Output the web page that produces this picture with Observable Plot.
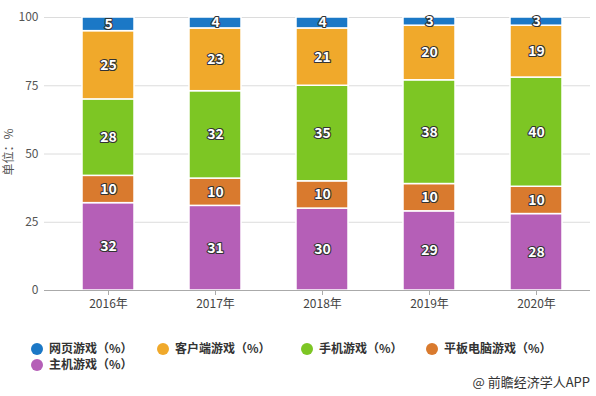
<!DOCTYPE html>
<html><head><meta charset="utf-8">
<script src="https://cdn.jsdelivr.net/npm/d3@7"></script>
<script src="https://cdn.jsdelivr.net/npm/@observablehq/plot@0.6"></script>
<style>
body{margin:0;background:#fff;font-family:"Noto Sans CJK SC","Noto Sans",sans-serif;}
#wrap{position:relative;width:596px;height:396px;overflow:hidden;}
#legend{position:absolute;left:0;top:336px;width:596px;height:40px;}
.li{position:absolute;font-size:12px;font-weight:bold;color:#333;white-space:nowrap;line-height:16px;}
.dot{display:inline-block;width:12px;height:12px;border-radius:50%;vertical-align:-2px;margin-right:6px;}
#cap{position:absolute;right:6px;top:372px;font-size:13px;color:#333;}
</style></head><body>
<div id="wrap"><div id="chart"></div><div id="legend"></div><div id="cap">@ 前瞻经济学人APP</div></div>
<script>
const years = ["2016年","2017年","2018年","2019年","2020年"];
const seriesNames = ["主机游戏（%）","平板电脑游戏（%）","手机游戏（%）","客户端游戏（%）","网页游戏（%）"];
const seriesColors = ["#b55fb7","#d97a2e","#7dc624","#f0a92b","#1b78c6"];
const console_ = [32,31,30,29,28];
const tablet = [10,10,10,10,10];
const mobile = [28,32,35,38,40];
const client = [25,23,21,20,19];
const web = [5,4,4,3,3];
const yTicks = [0,25,50,75,100];
const legendOrder = ["网页游戏（%）","客户端游戏（%）","手机游戏（%）","平板电脑游戏（%）","主机游戏（%）"];

const values = [console_, tablet, mobile, client, web];
const data = [];
values.forEach((arr, s) => arr.forEach((v, i) => data.push({year: years[i], series: seriesNames[s], value: v})));

const stack = {x: "year", y: "value", z: "series", order: seriesNames};
const chart = Plot.plot({
  width: 596, height: 320,
  marginTop: 17, marginBottom: 30, marginLeft: 44, marginRight: 6,
  style: {fontFamily: "'Noto Sans CJK SC',sans-serif", fontSize: "12px", color: "#555"},
  x: {type: "band", domain: years, paddingInner: 0.515, paddingOuter: 0.26, label: null, insetLeft: 9},
  y: {domain: [0,100], ticks: yTicks, label: null},
  color: {domain: seriesNames, range: seriesColors},
  marks: [
    Plot.ruleY(yTicks.filter(d => d > 0), {stroke: "#dcdcdc"}),
    Plot.barY(data, Plot.stackY({...stack, fill: "series", stroke: "#fff", strokeWidth: 1.5})),
    Plot.text(data, Plot.stackY({...stack, text: d => d.value, fill: "#fff", stroke: "#333", strokeWidth: 2.2, paintOrder: "stroke", fontSize: 14, fontWeight: "bold"})),
    Plot.ruleY([0], {stroke: "#aaa"}),
    Plot.axisY({ticks: yTicks, tickSize: 0, tickPadding: 6, fontSize: 12, fill: "#555"}),
    Plot.axisX({tickSize: 5, stroke: "#aaa", fontSize: 12, fill: "#444", tickPadding: 4})
  ]
});
document.getElementById("chart").appendChild(chart);
const svg = d3.select(chart);
svg.append("text").attr("transform","translate(13,152) rotate(-90)").attr("text-anchor","middle")
  .attr("font-size",12).attr("fill","#555").text("单位：%");

const lg = document.getElementById("legend");
const pos = [[31,4],[157,4],[301,4],[426,4],[31,20]];
legendOrder.forEach((name, i) => {
  const c = seriesColors[seriesNames.indexOf(name)];
  const el = document.createElement("div");
  el.className = "li";
  el.style.left = pos[i][0] + "px"; el.style.top = pos[i][1] + "px";
  el.innerHTML = `<span class="dot" style="background:${c}"></span>${name}`;
  lg.appendChild(el);
});
</script>
</body></html>
